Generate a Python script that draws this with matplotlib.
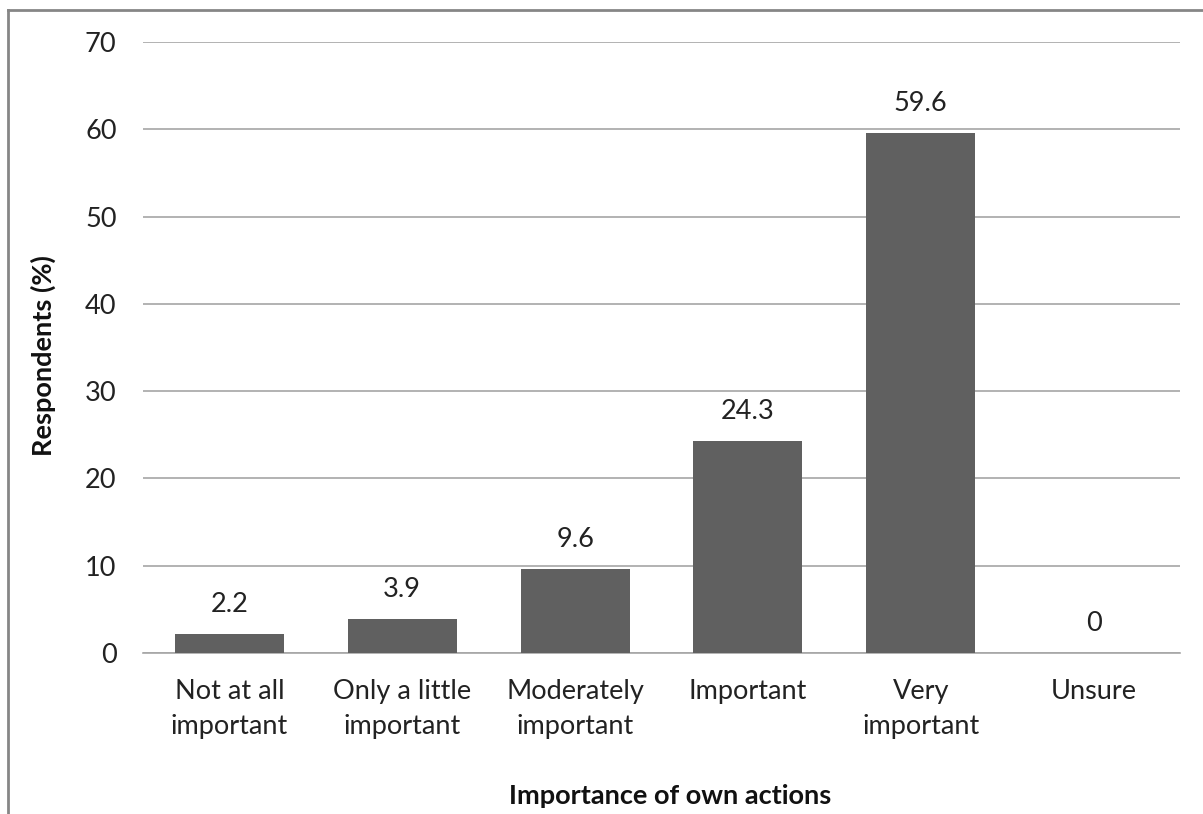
import matplotlib.pyplot as plt

categories = ["Not at all\nimportant", "Only a little\nimportant", "Moderately\nimportant",
              "Important", "Very\nimportant", "Unsure"]
values = [2.2, 3.9, 9.6, 24.3, 59.6, 0]
value_labels = ["2.2", "3.9", "9.6", "24.3", "59.6", "0"]
yticks = [0, 10, 20, 30, 40, 50, 60, 70]

plt.rcParams['font.family'] = ['Lato', 'DejaVu Sans']

fig = plt.figure(figsize=(12.03, 8.14), dpi=100)
ax = fig.add_axes([143 / 1203, 1 - 653 / 814, (1180 - 143) / 1203, (653 - 42) / 814])

x = list(range(len(categories)))
ax.bar(x, values, width=0.63, color='#606060', zorder=3)

# value labels above each bar
for xi, v, lab in zip(x, values, value_labels):
    ax.annotate(lab, (xi, v), xytext=(0, 17), textcoords='offset pixels',
                ha='center', va='bottom', fontsize=19.5, color='#222222')

ax.set_xlim(-0.5, len(categories) - 0.5)
ax.set_ylim(0, 70)
ax.set_yticks(yticks)
ax.set_yticklabels([str(t) for t in yticks], fontsize=19.5, color='#222222')
ax.set_xticks(x)
ax.set_xticklabels(categories, fontsize=19.5, color='#222222', linespacing=1.5)
ax.tick_params(axis='both', length=0)
ax.tick_params(axis='y', pad=19)
ax.tick_params(axis='x', pad=19)

ax.grid(axis='y', color='#a6a6a6', linewidth=1.2, zorder=0)
for s in ['top', 'right', 'left']:
    ax.spines[s].set_visible(False)
ax.spines['bottom'].set_color('#a6a6a6')
ax.spines['bottom'].set_linewidth(1.2)

fig.text(43 / 1203, 1 - 356 / 814, "Respondents (%)", rotation=90, ha='center', va='center',
         fontsize=19.5, fontweight='bold', color='#111111')
fig.text(670 / 1203, 1 - 796 / 814, "Importance of own actions", ha='center', va='center',
         fontsize=19.5, fontweight='bold', color='#111111')

# outer frame: top and left edges only
fig.add_artist(plt.Line2D([8 / 1203, 8 / 1203], [0, 1 - 10 / 814], transform=fig.transFigure,
                          color='#868686', linewidth=2))
fig.add_artist(plt.Line2D([8 / 1203, 1], [1 - 10 / 814, 1 - 10 / 814], transform=fig.transFigure,
                          color='#868686', linewidth=2))

fig.savefig('out.png', dpi=100, facecolor='white')
